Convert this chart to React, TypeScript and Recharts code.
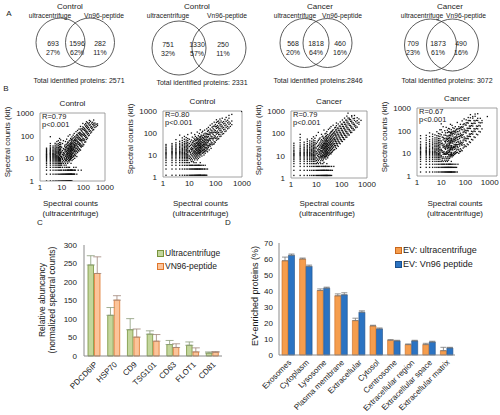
import React from 'react';
import { ScatterChart, Scatter, XAxis, YAxis, ReferenceArea, BarChart, Bar, ErrorBar, Legend } from 'recharts';

const FONT = '"Liberation Sans", Arial, Helvetica, sans-serif';
const INK = '#1a1a1a';

// ---------- A: overlap of identified proteins ----------
const vennGroups = ['Control', 'Control', 'Cancer', 'Cancer'];
const ucOnly = [693, 751, 568, 709];
const sharedIds = [1596, 1330, 1818, 1873];
const kitOnly = [282, 250, 460, 490];
const ucOnlyPct = [27, 32, 20, 23];
const sharedPct = [62, 57, 64, 61];
const kitOnlyPct = [11, 11, 16, 16];
const totalIds = [2571, 2331, 2846, 3072];
const totalSep = [' ', ' ', '', ' '];

// ---------- B: spectral counts, kit vs ultracentrifuge ----------
const scatterGroups = ['Control', 'Control', 'Cancer', 'Cancer'];
const scatterR = ['0.79', '0.80', '0.79', '0.67'];

// each entry: [ultracentrifuge count, kit counts seen at that x]
const ctrlA: [number, number[]][] = [
  [2, [1, 2, 3, 4, 5, 6, 7, 8, 9, 10, 11, 12, 13, 14, 15, 16, 18, 20, 22, 25, 28]],
  [3, [1, 2, 3, 4, 5, 6, 7, 8, 9, 10, 11, 12, 13, 14, 15, 16, 17, 18, 20, 22, 24, 27, 31, 36, 45, 90]],
  [4, [1, 2, 3, 4, 5, 6, 7, 8, 9, 10, 11, 12, 13, 14, 15, 16, 17, 19, 21, 23, 26, 30, 35]],
  [5, [1, 2, 3, 4, 5, 6, 7, 8, 9, 10, 11, 12, 13, 14, 15, 16, 18, 20, 22, 25, 28, 32, 38, 46]],
  [6, [1, 2, 3, 4, 5, 6, 7, 8, 9, 10, 11, 12, 13, 14, 16, 18, 20, 23, 26, 30, 35, 42, 55]],
  [7, [1, 2, 3, 4, 5, 6, 7, 8, 9, 10, 11, 12, 14, 16, 18, 20, 23, 26, 30, 36, 44, 60]],
  [8, [1, 2, 3, 4, 5, 6, 7, 8, 9, 10, 11, 13, 15, 17, 19, 22, 25, 29, 34, 41, 50, 75]],
  [9, [1, 2, 3, 4, 5, 6, 7, 8, 9, 10, 12, 14, 16, 18, 21, 24, 28, 33, 40, 48, 65]],
  [10, [1, 2, 3, 5, 6, 11, 12, 19, 31]], [11, [1, 2, 4, 7, 9, 10, 15, 22, 45]],
  [12, [1, 2, 3, 6, 8, 13, 14, 18, 27, 60]], [13, [1, 2, 3, 5, 11, 16, 17, 25]],
  [14, [1, 2, 4, 7, 9, 10, 14, 21, 33, 38]], [15, [1, 2, 3, 6, 8, 12, 19, 24, 29, 55]],
  [16, [1, 2, 3, 5, 9, 13, 15, 23, 30, 41]], [17, [1, 2, 4, 8, 10, 11, 17, 20, 34, 70]],
  [18, [1, 2, 3, 7, 12, 14, 16, 26, 28, 44]], [19, [1, 2, 3, 6, 9, 15, 18, 22, 37, 52]],
  [20, [1, 2, 3, 4, 11, 13, 19, 24, 31, 49, 95]], [21, [1, 2, 3, 8, 10, 16, 21, 27, 39]],
  [22, [1, 2, 3, 7, 12, 14, 20, 25, 35, 58]], [23, [1, 2, 4, 9, 13, 17, 23, 32, 43]],
  [24, [1, 2, 3, 8, 11, 15, 18, 28, 36, 62, 110]], [25, [1, 2, 3, 10, 14, 20, 26, 30, 47]],
  [26, [1, 2, 3, 9, 12, 16, 22, 34, 41, 75]], [27, [2, 3, 6, 11, 17, 24, 29, 51]],
  [28, [1, 2, 3, 10, 13, 19, 25, 38, 46, 68]], [29, [2, 3, 12, 15, 21, 27, 33, 57]],
  [30, [1, 2, 3, 8, 14, 18, 23, 30, 42, 64, 88]], [32, [2, 3, 11, 16, 22, 26, 35, 48, 72]],
  [34, [2, 3, 9, 13, 19, 25, 31, 44, 59, 105]], [36, [2, 4, 12, 17, 24, 28, 39, 53, 80]],
  [38, [2, 3, 14, 20, 23, 33, 41, 62, 125]], [40, [2, 3, 10, 15, 21, 30, 37, 50, 67, 90]],
  [43, [3, 13, 19, 26, 35, 46, 61, 78]], [46, [4, 16, 22, 29, 40, 55, 70, 98, 150]],
  [50, [2, 12, 20, 27, 36, 44, 63, 85, 112]], [54, [18, 25, 33, 48, 57, 80, 105, 170]],
  [58, [3, 22, 31, 41, 53, 72, 95, 130]], [63, [21, 27, 41, 49, 69, 85, 124, 195]],
  [68, [25, 37, 45, 63, 81, 112, 140]], [74, [23, 34, 43, 61, 73, 104, 130, 195, 255]],
  [80, [3, 31, 38, 58, 67, 96, 120, 170]], [87, [34, 52, 63, 89, 110, 156, 205]],
  [95, [35, 43, 65, 77, 110, 135, 192, 245, 345]], [105, [40, 61, 73, 103, 125, 182, 225]],
  [115, [52, 65, 94, 115, 167, 203, 300]], [128, [53, 82, 100, 147, 178, 260, 340]],
  [140, [68, 86, 131, 158, 230, 290, 410]], [155, [77, 115, 144, 208, 262, 370]],
  [172, [99, 125, 182, 232, 330]], [190, [106, 156, 193, 290, 370, 470]],
  [215, [130, 164, 238, 300, 430]], [240, [145, 207, 252, 360]],
  [270, [176, 222, 310, 390]], [300, [185, 268, 330, 490]],
  [340, [230, 290, 360]], [390, [250, 320]], [450, [280, 330]],
];

const ctrlB: [number, number[]][] = [
  [1.3, [1.2, 2.3, 3.4, 4.5, 5.6, 6.7, 7.8, 8.9, 10, 11, 12, 13, 15, 17, 19, 22, 26, 30]],
  [2.2, [1.2, 2.3, 3.4, 4.5, 5.6, 6.7, 7.8, 8.9, 10, 11, 12, 13, 14, 15, 17, 19, 21, 24, 28, 33]],
  [3.1, [1.2, 2.3, 3.4, 4.5, 5.6, 6.7, 7.8, 8.9, 10, 11, 12, 13, 14, 16, 18, 20, 23, 26, 30, 36, 50]],
  [4.3, [1.2, 2.3, 3.4, 4.5, 5.6, 6.7, 7.8, 8.9, 10, 11, 12, 13, 14, 15, 17, 19, 22, 25, 29, 34, 42, 80]],
  [5.4, [1.2, 2.3, 3.4, 4.5, 5.6, 6.7, 7.8, 8.9, 10, 11, 12, 13, 14, 16, 18, 20, 23, 27, 31, 37, 46, 60]],
  [6.5, [1.2, 2.3, 3.4, 4.5, 5.6, 6.7, 7.8, 8.9, 10, 11, 12, 13, 15, 17, 19, 22, 25, 29, 34, 41, 52, 70]],
  [7.6, [1.2, 2.3, 3.4, 4.5, 5.6, 6.7, 7.8, 8.9, 10, 11, 12, 14, 16, 18, 21, 24, 28, 33, 39, 48, 62]],
  [8.7, [1.2, 2.3, 3.4, 4.5, 5.6, 6.7, 7.8, 8.9, 10, 11, 13, 15, 17, 20, 23, 27, 31, 37, 45, 56, 85]],
  [10, [1.2, 2.3, 3.4, 4.5, 7, 9, 14, 16, 24, 33, 52]], [11, [1.2, 2.3, 3.4, 6, 8, 11, 13, 19, 27, 40]],
  [12, [1.2, 2.3, 3.4, 5, 7, 10, 15, 18, 22, 31, 48, 100]], [13, [1.2, 2.3, 3.4, 6, 9, 12, 17, 20, 28, 37, 65]],
  [14, [1.2, 2.3, 3.4, 5, 8, 11, 14, 19, 25, 35, 44]], [15, [1.2, 2.3, 4.5, 7, 10, 13, 16, 23, 29, 41, 58]],
  [16, [1.2, 2.3, 3.4, 6, 9, 12, 15, 21, 26, 33, 50, 85]], [17, [1.2, 2.3, 3.4, 8, 11, 14, 18, 24, 31, 45, 70]],
  [18, [1.2, 2.3, 4.5, 7, 10, 13, 17, 20, 27, 38, 54]], [19, [1.2, 2.3, 3.4, 9, 12, 16, 19, 25, 34, 47, 62]],
  [20, [1.2, 2.3, 3.4, 6, 8, 11, 15, 22, 28, 36, 51, 110]], [21, [1.2, 2.3, 10, 13, 17, 21, 30, 39, 56]],
  [22, [1.2, 2.3, 3.4, 7, 12, 15, 19, 26, 33, 44, 75]], [23, [1.2, 3.4, 9, 14, 18, 23, 29, 40, 53]],
  [24, [1.2, 2.3, 3.4, 11, 13, 16, 22, 27, 35, 48, 66, 95]], [25, [1.2, 2.3, 8, 12, 17, 21, 28, 37, 51]],
  [26, [1.2, 2.3, 4.5, 10, 14, 19, 24, 31, 43, 60, 140]], [27, [1.2, 3.4, 13, 16, 22, 26, 34, 49, 68]],
  [28, [1.2, 2.3, 11, 15, 20, 25, 32, 41, 58, 80]], [30, [1.2, 2.3, 3.4, 9, 14, 18, 23, 29, 38, 52, 73, 105]],
  [32, [1.2, 2.3, 12, 16, 21, 27, 36, 46, 63, 120]], [34, [1.2, 3.4, 13, 17, 24, 30, 39, 55, 78]],
  [36, [1.2, 2.3, 10, 15, 19, 26, 33, 44, 61, 90]], [38, [1.2, 2.3, 14, 18, 23, 29, 40, 52, 71, 135]],
  [40, [1.2, 3.4, 12, 16, 22, 31, 37, 49, 67, 98]], [43, [1.2, 2.3, 15, 20, 27, 34, 45, 60, 82]],
  [46, [1.2, 17, 22, 30, 39, 52, 70, 95, 155]], [49, [2.3, 14, 19, 26, 36, 47, 64, 88, 120]],
  [53, [22, 26, 40, 47, 70, 86, 131, 180]], [57, [17, 27, 32, 49, 58, 88, 110]],
  [62, [25, 30, 46, 55, 82, 100, 152, 225]], [67, [20, 32, 39, 58, 71, 106, 134]],
  [73, [29, 36, 55, 67, 99, 124, 183, 262]], [80, [31, 48, 57, 86, 105, 157, 198]],
  [88, [32, 40, 61, 75, 110, 139, 208, 310]], [97, [38, 58, 72, 105, 130, 193, 242]],
  [107, [47, 59, 89, 110, 162, 202, 300, 400]], [118, [53, 67, 99, 123, 178, 221, 330]],
  [130, [55, 84, 104, 152, 188, 276, 350]], [145, [69, 86, 127, 158, 230, 290, 430]],
  [160, [72, 107, 134, 193, 240, 352]], [178, [89, 113, 167, 207, 300, 470]],
  [200, [94, 141, 178, 260, 330]], [225, [117, 149, 218, 275, 410]],
  [250, [124, 182, 232, 342, 510]], [285, [156, 198, 290, 380]],
  [320, [170, 248, 320, 470, 630]], [360, [200, 280]], [410, [240, 350, 700]], [980, [950]],
];

const cancerA: [number, number[]][] = [
  [1.3, [1.3, 2.2, 3.3, 4.4, 5.5, 6.6, 7.7, 8.8, 10, 11, 12, 13, 15, 17, 20, 24, 29, 36]],
  [2.3, [1.3, 2.2, 3.3, 4.4, 5.5, 6.6, 7.7, 8.8, 10, 11, 12, 13, 14, 16, 18, 21, 25, 30, 38, 50, 65, 90]],
  [3.3, [1.3, 2.2, 3.3, 4.4, 5.5, 6.6, 7.7, 8.8, 10, 11, 12, 13, 14, 16, 18, 20, 23, 27, 32, 40]],
  [4.4, [1.3, 2.2, 3.3, 4.4, 5.5, 6.6, 7.7, 8.8, 10, 11, 12, 13, 14, 15, 17, 19, 22, 25, 29, 35, 44, 55]],
  [5.5, [1.3, 2.2, 3.3, 4.4, 5.5, 6.6, 7.7, 8.8, 10, 11, 12, 13, 14, 16, 18, 20, 23, 27, 31, 37, 46]],
  [6.6, [1.3, 2.2, 3.3, 4.4, 5.5, 6.6, 7.7, 8.8, 10, 11, 12, 13, 15, 17, 19, 22, 26, 30, 36, 44, 58]],
  [7.7, [1.3, 2.2, 3.3, 4.4, 5.5, 6.6, 7.7, 8.8, 10, 11, 12, 14, 16, 18, 21, 24, 28, 33, 40, 50, 70]],
  [8.8, [1.3, 2.2, 3.3, 4.4, 5.5, 6.6, 7.7, 8.8, 10, 11, 13, 15, 17, 20, 23, 27, 32, 38, 47, 60]],
  [10, [1.3, 2.2, 3.3, 4.4, 6, 8, 12, 15, 22, 35, 80]], [11, [1.3, 2.2, 3.3, 5, 7, 10, 13, 18, 26, 41]],
  [12, [1.3, 2.2, 3.3, 4.4, 6, 9, 11, 16, 20, 29, 48, 110]], [13, [1.3, 2.2, 3.3, 7, 8, 12, 14, 19, 24, 33, 55]],
  [14, [1.3, 2.2, 3.3, 5, 9, 11, 15, 18, 27, 38, 62]], [15, [1.3, 2.2, 4.4, 6, 8, 10, 13, 17, 22, 30, 45]],
  [16, [1.3, 2.2, 3.3, 7, 9, 12, 16, 21, 25, 34, 52, 90]], [17, [1.3, 2.2, 3.3, 8, 10, 14, 17, 23, 28, 40, 70]],
  [18, [1.3, 2.2, 4.4, 6, 9, 11, 15, 20, 26, 31, 47, 75]], [19, [1.3, 2.2, 3.3, 7, 10, 13, 18, 22, 29, 36, 58]],
  [20, [1.3, 2.2, 3.3, 5, 8, 12, 14, 19, 24, 33, 42, 65, 140]], [21, [1.3, 2.2, 9, 11, 16, 21, 27, 35, 50]],
  [22, [1.3, 2.2, 3.3, 8, 10, 13, 17, 23, 30, 39, 56, 95]], [23, [1.3, 3.3, 9, 12, 15, 20, 26, 34, 46, 72]],
  [24, [1.3, 2.2, 3.3, 7, 11, 14, 18, 24, 32, 44, 61, 100]], [25, [1.3, 2.2, 10, 13, 17, 22, 28, 37, 53, 80]],
  [26, [1.3, 2.2, 4.4, 9, 12, 16, 20, 27, 35, 47, 68, 120]], [27, [1.3, 3.3, 11, 14, 19, 25, 31, 42, 58]],
  [28, [1.3, 2.2, 8, 12, 15, 21, 26, 34, 45, 62, 88]], [30, [1.3, 2.2, 3.3, 10, 13, 17, 23, 29, 38, 50, 70, 150]],
  [32, [1.3, 2.2, 11, 14, 19, 24, 32, 41, 56, 82]], [34, [1.3, 3.3, 12, 16, 21, 27, 35, 46, 63, 95, 170]],
  [36, [1.3, 2.2, 13, 17, 22, 30, 39, 52, 71, 105]], [38, [2.2, 12, 18, 24, 31, 43, 57, 78, 115, 200]],
  [40, [1.3, 3.3, 14, 19, 26, 34, 45, 61, 85, 120]], [43, [2.2, 15, 21, 28, 37, 50, 68, 92, 130]],
  [46, [17, 23, 31, 41, 55, 75, 100, 145, 230]], [49, [3.3, 18, 25, 34, 45, 60, 82, 110]],
  [53, [19, 29, 35, 52, 63, 94, 118, 175]], [57, [24, 28, 43, 50, 77, 92, 141, 185]],
  [62, [21, 35, 41, 62, 76, 115, 143, 220, 290]], [67, [29, 34, 52, 61, 93, 112, 172]],
  [73, [26, 43, 50, 77, 91, 138, 170, 262]], [80, [36, 41, 63, 75, 114, 137, 212]],
  [88, [34, 53, 62, 94, 111, 168, 208, 325]], [97, [45, 51, 79, 92, 139, 168, 258]],
  [107, [43, 66, 76, 115, 137, 206, 255, 395]], [118, [55, 64, 96, 113, 170, 203, 316]],
  [130, [53, 81, 94, 142, 170, 254, 312, 480]], [145, [68, 80, 119, 141, 212, 255, 390]],
  [160, [67, 101, 118, 178, 212, 318, 385, 590]], [178, [85, 99, 149, 176, 265, 320, 485, 800]],
  [200, [84, 128, 150, 225, 268, 410, 475]], [225, [108, 128, 192, 226, 345, 415]],
  [250, [110, 165, 193, 292, 350, 545, 620]], [285, [140, 166, 250, 296, 455]],
  [320, [142, 212, 255, 380, 470, 630]], [360, [180, 216, 330]],
  [410, [190, 285, 370, 500]], [480, [255, 310, 440]], [580, [380]],
];

const cancerB: [number, number[]][] = [
  [1.4, [1.5, 2.4, 3.3, 4.4, 5.5, 6.6, 7.7, 8.8, 10, 11, 12, 14, 16, 18, 21, 25, 32, 45, 60]],
  [2.4, [1.5, 2.4, 3.3, 4.4, 5.5, 6.6, 7.7, 8.8, 10, 11, 12, 13, 14, 16, 18, 21, 25, 30, 38, 48, 62]],
  [3.3, [1.5, 2.4, 3.3, 4.4, 5.5, 6.6, 7.7, 8.8, 10, 11, 12, 13, 15, 17, 20, 23, 27, 33, 40, 55, 80]],
  [4.4, [1.5, 2.4, 3.3, 4.4, 5.5, 6.6, 7.7, 8.8, 10, 11, 12, 14, 16, 18, 21, 25, 29, 35, 43, 55, 70]],
  [5.5, [1.5, 2.4, 3.3, 4.4, 5.5, 6.6, 7.7, 8.8, 10, 11, 12, 13, 15, 17, 20, 23, 27, 32, 39, 48, 65]],
  [6.6, [1.5, 2.4, 3.3, 4.4, 5.5, 6.6, 7.7, 8.8, 10, 11, 13, 15, 17, 20, 23, 27, 32, 39, 48, 60, 90]],
  [7.7, [1.5, 2.4, 3.3, 4.4, 5.5, 6.6, 7.7, 8.8, 10, 12, 14, 16, 19, 22, 26, 31, 37, 45, 58, 75]],
  [8.8, [1.5, 2.4, 3.3, 4.4, 5.5, 6.6, 7.7, 8.8, 10, 11, 13, 15, 18, 21, 25, 30, 36, 44, 55, 72, 110]],
  [10, [1.5, 2.4, 3.3, 4.4, 7, 8, 13, 15, 27, 35, 66, 110, 200]], [11, [1.5, 2.4, 3.3, 5, 6, 11, 13, 23, 28, 52, 85]],
  [12, [1.5, 2.4, 3.3, 4.4, 7, 9, 11, 18, 21, 39, 50, 150]], [13, [1.5, 2.4, 3.3, 6, 10, 12, 21, 25, 46, 64]],
  [14, [1.5, 2.4, 3.3, 5, 9, 10, 17, 20, 34, 44, 100]], [15, [1.5, 2.4, 4.4, 7, 9, 15, 17, 29, 34, 63, 80]],
  [16, [1.5, 2.4, 3.3, 6, 10, 11, 19, 22, 38, 47, 140]], [17, [1.5, 2.4, 3.3, 5, 9, 12, 21, 25, 44, 59]],
  [18, [1.5, 2.4, 4.4, 7, 10, 16, 19, 33, 41, 82, 105]], [19, [1.5, 2.4, 3.3, 6, 11, 13, 22, 26, 47, 57]],
  [20, [1.5, 2.4, 3.3, 5, 9, 11, 18, 21, 37, 45, 88, 125]], [21, [1.5, 2.4, 7, 8, 14, 17, 29, 34, 62, 90]],
  [22, [1.5, 2.4, 3.3, 6, 12, 14, 24, 28, 51, 62, 120]], [23, [1.5, 3.3, 9, 11, 19, 22, 39, 46, 85]],
  [24, [1.5, 2.4, 3.3, 7, 9, 15, 17, 30, 35, 64, 82, 190]], [25, [1.5, 2.4, 8, 14, 16, 28, 32, 59, 75]],
  [26, [1.5, 2.4, 4.4, 8, 10, 18, 21, 37, 44, 80, 110]], [27, [1.5, 3.3, 9, 11, 19, 22, 39, 46, 84]],
  [28, [1.5, 2.4, 7, 9, 15, 18, 32, 38, 69, 90, 170]], [30, [1.5, 2.4, 3.3, 8, 14, 16, 28, 33, 58, 73, 135]],
  [32, [1.5, 2.4, 8, 10, 18, 20, 35, 43, 77, 96]], [34, [1.5, 3.3, 9, 11, 20, 24, 41, 50, 93, 125]],
  [36, [1.5, 2.4, 9, 15, 18, 32, 39, 70, 88]], [38, [2.4, 10, 12, 21, 25, 44, 53, 96, 150]],
  [40, [1.5, 3.3, 10, 17, 21, 37, 46, 81, 105]], [43, [2.4, 11, 14, 24, 30, 52, 64, 115]],
  [46, [1.5, 11, 20, 24, 42, 51, 92, 120, 230]], [49, [3.3, 15, 18, 33, 40, 71, 90]],
  [53, [10, 14, 25, 31, 55, 68, 120, 150]], [57, [12, 21, 26, 45, 55, 98, 125]],
  [62, [12, 16, 28, 35, 61, 77, 135, 190]], [67, [14, 24, 30, 53, 66, 117, 150]],
  [73, [13, 23, 28, 50, 62, 110, 140, 270]], [80, [17, 31, 38, 68, 85, 148, 185]],
  [88, [19, 24, 43, 53, 94, 118, 205, 330]], [97, [21, 37, 47, 83, 104, 180]],
  [107, [20, 35, 44, 79, 98, 175, 220, 300]], [118, [26, 46, 58, 103, 128, 225]],
  [130, [24, 44, 55, 98, 125, 215, 280, 380]], [145, [32, 57, 71, 128, 160, 280]],
  [160, [30, 55, 70, 125, 158, 275, 370, 510]], [178, [41, 74, 94, 168, 210]],
  [200, [39, 70, 89, 160, 205, 355, 420]], [225, [53, 96, 122, 215, 280]],
  [250, [50, 92, 118, 210, 270, 430, 540]], [285, [70, 125, 160, 285]],
  [320, [66, 120, 155, 280, 350, 560]], [360, [92, 170, 230]],
  [410, [88, 160, 220, 350]], [480, [120, 225, 280]], [800, [420]],
];

const scatterCols = [ctrlA, ctrlB, cancerA, cancerB];

// ---------- C: EV marker abundance ----------
const markers = ['PDCD6IP', 'HSP70', 'CD9', 'TSG101', 'CD63', 'FLOT1', 'CD81'];
const ucAbund = [246, 110, 71, 59, 31, 29, 8];
const ucAbundErr = [25, 21, 30, 9, 11, 9, 3];
const kitAbund = [223, 151, 51, 40, 23, 11, 10];
const kitAbundErr = [45, 12, 22, 18, 10, 11, 2];
const abundTicks = [0, 50, 100, 150, 200, 250, 300];

// ---------- D: EV-enriched compartments ----------
const compartments = [
  'Exosomes', 'Cytoplasm', 'Lysosome', 'Plasma membrane', 'Extracellular',
  'Cytosol', 'Centrosome', 'Extracellular region', 'Extracellular space', 'Extracellular matrix',
];
const ucEnriched = [58.9, 60, 40.3, 37, 21.5, 18.2, 9.2, 6.5, 6.5, 2.7];
const ucEnrichedErr = [2.3, 0.6, 1, 1.2, 1.5, 0.4, 0.4, 0.4, 0.8, 2.1];
const kitEnriched = [62.3, 55.4, 41.8, 37.6, 26.7, 16.3, 8.8, 8.8, 8.1, 4.4];
const kitEnrichedErr = [0.8, 0.8, 0.6, 1.3, 0.9, 0.6, 0.4, 0.4, 0.5, 0.4];
const enrichTicks = [0, 10, 20, 30, 40, 50, 60, 70];

// ---------- layout ----------
const vennLayout = [
  { lc: 60.5, rc: 90, cy: 42.5, rad: 24.5, title: 70, ucLbl: 50, kitLbl: 104, nums: [53, 77, 100], numY: 43, total: 79, totalY: 80 },
  { lc: 179, rc: 219, cy: 48, rad: 27, title: 197, ucLbl: 168, kitLbl: 227, nums: [168, 197, 223], numY: 44, total: 202, totalY: 82 },
  { lc: 304.5, rc: 327.5, cy: 43, rad: 24.5, title: 320, ucLbl: 295, kitLbl: 342, nums: [293, 316, 340], numY: 43, total: 318, totalY: 80 },
  { lc: 430.5, rc: 452.5, cy: 45, rad: 26, title: 450, ucLbl: 422, kitLbl: 466, nums: [413, 438, 461], numY: 43, total: 447, totalY: 80 },
];

type Box = { left: number; right: number; top: number; bottom: number };
const scatterBoxes: Box[] = [
  { left: 40, right: 105, top: 113, bottom: 181 },
  { left: 163, right: 242, top: 111, bottom: 177 },
  { left: 291, right: 367, top: 111, bottom: 178 },
  { left: 417, right: 497, top: 108, bottom: 176 },
];
const scatterXMax = [1000, 1000, 1000, 2000];
const LOG_TICKS = [1, 10, 100, 1000];

function Txt({ x, y, size = 8, rotate, anchor = 'middle', lh, children }: any) {
  const tx = anchor === 'middle' ? '-50%' : anchor === 'end' ? '-100%' : '0';
  return (
    <div
      style={{
        position: 'absolute', left: x, top: y, fontSize: size, color: INK, whiteSpace: 'nowrap',
        lineHeight: lh ? `${lh}px` : 1.15, textAlign: 'center',
        transform: `translate(${tx}, -50%)${rotate ? ` rotate(${rotate}deg)` : ''}`,
      }}
    >
      {children}
    </div>
  );
}

function VennPanel() {
  return (
    <svg width={500} height={90} style={{ position: 'absolute', left: 0, top: 0 }} fontFamily={FONT} fill={INK}>
      {vennLayout.map((L, i) => (
        <g key={i}>
          <circle cx={L.lc} cy={L.cy} r={L.rad} fill="none" stroke="#333" strokeWidth={0.8} />
          <circle cx={L.rc} cy={L.cy} r={L.rad} fill="none" stroke="#333" strokeWidth={0.8} />
          <text x={L.title} y={6} fontSize={8} textAnchor="middle" dominantBaseline="central">{vennGroups[i]}</text>
          <text x={L.ucLbl} y={15} fontSize={6.7} textAnchor="middle" dominantBaseline="central">ultracentrifuge</text>
          <text x={L.kitLbl} y={15} fontSize={6.7} textAnchor="middle" dominantBaseline="central">Vn96-peptide</text>
          {[ucOnly[i], sharedIds[i], kitOnly[i]].map((n, k) => (
            <text key={'n' + k} x={L.nums[k]} y={L.numY} fontSize={7} textAnchor="middle" dominantBaseline="central">{n}</text>
          ))}
          {[ucOnlyPct[i], sharedPct[i], kitOnlyPct[i]].map((p, k) => (
            <text key={'p' + k} x={L.nums[k]} y={L.numY + 9} fontSize={7} textAnchor="middle" dominantBaseline="central">{p}%</text>
          ))}
          <text x={L.total} y={L.totalY} fontSize={7} textAnchor="middle" dominantBaseline="central">
            {`Total identified proteins:${totalSep[i]}${totalIds[i]}`}
          </text>
        </g>
      ))}
    </svg>
  );
}

function Dot(props: any) {
  const { cx, cy } = props;
  if (cx == null || cy == null) return null;
  return <rect x={cx - 0.65} y={cy - 0.65} width={1.3} height={1.3} fill="#111" />;
}

function CountScatter({ idx }: { idx: number }) {
  const box = scatterBoxes[idx];
  const xMax = scatterXMax[idx];
  const data = scatterCols[idx].flatMap(([x, ys]) => ys.map((y) => ({ x, y })));
  const yw = 30;
  const mt = 6;
  const mr = 12;
  const w = box.right - box.left + yw + mr;
  const h = box.bottom - box.top + mt + 14;
  const cx = (box.left + box.right) / 2;
  const cy = (box.top + box.bottom) / 2;
  const tick = { fontSize: 8, fill: INK, fontFamily: FONT };
  return (
    <>
      <div style={{ position: 'absolute', left: box.left - yw, top: box.top - mt }}>
        <ScatterChart width={w} height={h} margin={{ top: mt, right: mr, bottom: 0, left: 0 }}>
          <XAxis type="number" dataKey="x" scale="log" domain={[1, xMax]} ticks={LOG_TICKS} allowDataOverflow interval={0}
            axisLine={false} tickLine={false} tickSize={2} tickMargin={1} height={14} tick={tick} />
          <YAxis type="number" dataKey="y" scale="log" domain={[1, 1000]} ticks={LOG_TICKS} allowDataOverflow interval={0}
            axisLine={false} tickLine={false} tickSize={4} tickMargin={2} width={yw} tick={tick} />
          <ReferenceArea x1={1} x2={xMax} y1={1} y2={1000} fill="none" stroke="#8c8c8c" strokeWidth={0.8} ifOverflow="visible" />
          <Scatter data={data} shape={Dot} isAnimationActive={false} />
        </ScatterChart>
      </div>
      <Txt x={cx} y={box.top - 9} size={8}>{scatterGroups[idx]}</Txt>
      <Txt x={box.left + 2} y={box.top + 4} size={7.5} lh={8} anchor="start">R={scatterR[idx]}</Txt>
      <Txt x={box.left + 2} y={box.top + 11.5} size={7.5} lh={8} anchor="start">p&lt;0.001</Txt>
      <Txt x={box.left - 32} y={cy - 5} size={8} rotate={-90}>Spectral counts (kit)</Txt>
      <Txt x={cx - 2} y={204} size={8}>Spectral counts</Txt>
      <Txt x={cx - 2} y={213.5} size={8}>(ultracentrifuge)</Txt>
    </>
  );
}

function SwatchLegend({ items, size, rowH }: { items: { label: string; fill: string; stroke: string }[]; size: number; rowH: number }) {
  return (
    <div style={{ fontFamily: FONT, fontSize: size, color: INK, whiteSpace: 'nowrap' }}>
      {items.map((it) => (
        <div key={it.label} style={{ display: 'flex', alignItems: 'center', height: rowH }}>
          <span style={{ display: 'inline-block', width: 5, height: 5, background: it.fill, border: `1px solid ${it.stroke}`, marginRight: 1 }} />
          <span>{it.label}</span>
        </div>
      ))}
    </div>
  );
}

const C_UC = { fill: '#c3d69b', stroke: '#77933c' };
const C_KIT = { fill: '#fbc49a', stroke: '#e0762c' };
const D_UC = { fill: '#f59d4d', stroke: '#c8661c' };
const D_KIT = { fill: '#2b73c2', stroke: '#1c4f8a' };

function AbundanceChart() {
  const data = markers.map((m, i) => ({
    m, uc: ucAbund[i], ucErr: [0, ucAbundErr[i]], kit: kitAbund[i], kitErr: [0, kitAbundErr[i]],
  }));
  const left = 60;
  const top = 240;
  const tick = { fontSize: 8, fill: INK, fontFamily: FONT };
  return (
    <div style={{ position: 'absolute', left, top }}>
      <BarChart width={24 + 138 + 6} height={5 + 111 + 60} data={data} margin={{ top: 5, right: 6, bottom: 0, left: 0 }} barGap={1}>
        <XAxis dataKey="m" interval={0} angle={-45} textAnchor="end" tickLine={false} tickSize={3} tickMargin={2}
          height={60} tick={tick} axisLine={{ stroke: '#8a8a8a' }} />
        <YAxis type="number" domain={[0, 300]} ticks={abundTicks} interval={0} tickLine={false} tickSize={4} tickMargin={3} width={24}
          tick={tick} axisLine={{ stroke: '#8a8a8a' }} />
        <Legend layout="vertical" align="center" verticalAlign="middle"
          wrapperStyle={{ left: 157 - left, top: 253 - 6.5 - top, width: 'auto' }}
          content={() => (
            <SwatchLegend size={8.5} rowH={13} items={[
              { label: 'Ultracentrifuge', ...C_UC },
              { label: 'VN96-peptide', ...C_KIT },
            ]} />
          )} />
        <Bar dataKey="uc" name="Ultracentrifuge" fill={C_UC.fill} stroke={C_UC.stroke} strokeWidth={0.8} barSize={5.5} isAnimationActive={false}>
          <ErrorBar dataKey="ucErr" direction="y" width={4} stroke="#8a9a7a" strokeWidth={0.8} />
        </Bar>
        <Bar dataKey="kit" name="VN96-peptide" fill={C_KIT.fill} stroke={C_KIT.stroke} strokeWidth={0.8} barSize={5.5} isAnimationActive={false}>
          <ErrorBar dataKey="kitErr" direction="y" width={4} stroke="#a0867a" strokeWidth={0.8} />
        </Bar>
      </BarChart>
    </div>
  );
}

function EnrichmentChart() {
  const data = compartments.map((c, i) => ({
    c, uc: ucEnriched[i], ucErr: [0, ucEnrichedErr[i]], kit: kitEnriched[i], kitErr: [0, kitEnrichedErr[i]],
  }));
  const left = 257;
  const top = 238;
  const tick = { fontSize: 8, fill: INK, fontFamily: FONT };
  return (
    <div style={{ position: 'absolute', left, top }}>
      <BarChart width={22 + 176 + 4} height={5 + 112 + 60} data={data} margin={{ top: 5, right: 4, bottom: 0, left: 0 }} barGap={0.5}>
        <XAxis dataKey="c" interval={0} angle={-45} textAnchor="end" tickLine={false} tickSize={2} tickMargin={2}
          height={60} tick={tick} axisLine={{ stroke: '#8a8a8a' }} />
        <YAxis type="number" domain={[0, 70]} ticks={enrichTicks} interval={0} tickLine={false} tickSize={3} tickMargin={3} width={22}
          tick={tick} axisLine={{ stroke: '#8a8a8a' }} />
        <Legend layout="vertical" align="center" verticalAlign="middle"
          wrapperStyle={{ left: 395 - left, top: 250 - 7 - top, width: 'auto' }}
          content={() => (
            <SwatchLegend size={9} rowH={14} items={[
              { label: 'EV: ultracentrifuge', ...D_UC },
              { label: 'EV: Vn96 peptide', ...D_KIT },
            ]} />
          )} />
        <Bar dataKey="uc" name="EV: ultracentrifuge" fill={D_UC.fill} stroke={D_UC.stroke} strokeWidth={0.6} barSize={6} isAnimationActive={false}>
          <ErrorBar dataKey="ucErr" direction="y" width={3} stroke="#777" strokeWidth={0.8} />
        </Bar>
        <Bar dataKey="kit" name="EV: Vn96 peptide" fill={D_KIT.fill} stroke={D_KIT.stroke} strokeWidth={0.6} barSize={6} isAnimationActive={false}>
          <ErrorBar dataKey="kitErr" direction="y" width={3} stroke="#777" strokeWidth={0.8} />
        </Bar>
      </BarChart>
    </div>
  );
}

export default function App() {
  return (
    <div style={{ position: 'absolute', left: 0, top: 0, width: 500, height: 415, background: '#fff', fontFamily: FONT, overflow: 'hidden' }}>
      <VennPanel />
      <Txt x={9} y={14} size={8}>A</Txt>
      <Txt x={6} y={89} size={8}>B</Txt>
      <Txt x={40} y={223} size={8}>C</Txt>
      <Txt x={228} y={223} size={8}>D</Txt>
      {scatterBoxes.map((_, i) => <CountScatter key={i} idx={i} />)}
      <AbundanceChart />
      <Txt x={47} y={300} size={8.5} rotate={-90} lh={10}>
        Relative abuncancy<br />(normalized spectral counts)
      </Txt>
      <EnrichmentChart />
      <Txt x={255} y={296} size={9} rotate={-90}>EV-enriched proteins (%)</Txt>
    </div>
  );
}
